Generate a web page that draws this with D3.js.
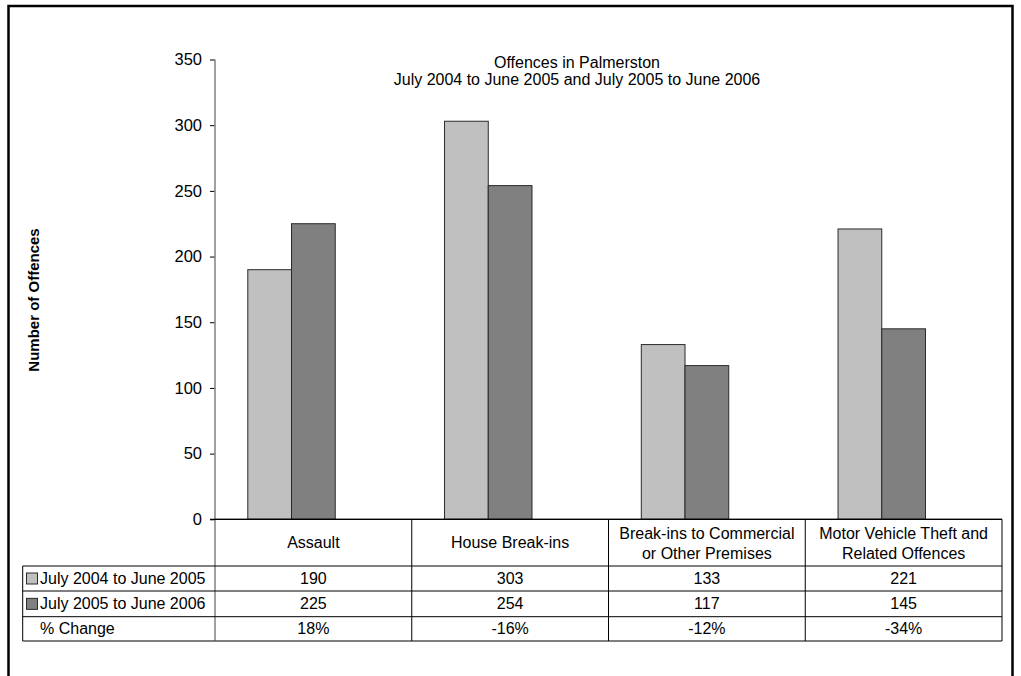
<!DOCTYPE html>
<html><head><meta charset="utf-8">
<script src="https://cdn.jsdelivr.net/npm/d3@7"></script>
<style>
body{margin:0;background:#fff;}
svg{display:block;font-family:"Liberation Sans",Arial,sans-serif;}
</style></head>
<body><svg id="c" width="1021" height="676"></svg>
<script>
const categories = [["Assault"],["House Break-ins"],["Break-ins to Commercial","or Other Premises"],["Motor Vehicle Theft and","Related Offences"]];
const seriesNames = ["July 2004 to June 2005","July 2005 to June 2006"];
const values2005 = [190,303,133,221];
const values2006 = [225,254,117,145];
const pctChange = ["18%","-16%","-12%","-34%"];
const colors = ["#c0c0c0","#808080"];
const titleLines = ["Offences in Palmerston","July 2004 to June 2005 and July 2005 to June 2006"];
const yTicks = [0,50,100,150,200,250,300,350];

(function(){
const svg = d3.select("#c");
const pLeft = 215, pRight = 1002, pTop = 59.5, pBottom = 519.3;
const tblLeft = 22.7;
const rowY = [519.3, 566, 591, 616.7, 641];
const fs = 16;

// outer border
svg.append("rect").attr("x",8.5).attr("y",6).attr("width",1004).attr("height",700)
  .attr("fill","none").attr("stroke","#000").attr("stroke-width",2.5);

const idx = categories.map((d,i)=>i);
const x = d3.scaleBand().domain(idx).range([pLeft,pRight]).padding(0);
const bw = x.bandwidth();
const xs = d3.scaleBand().domain([0,1]).range([bw/6, bw/6 + 4*bw/9]).padding(0);
const y = d3.scaleLinear().domain([0,350]).range([pBottom, pTop]);

// bars
const series = [values2005, values2006];
series.forEach((vals,s)=>{
  svg.append("g").selectAll("rect").data(vals).join("rect")
    .attr("x",(d,i)=>x(i)+xs(s)).attr("y",d=>y(d))
    .attr("width",xs.bandwidth()).attr("height",d=>y(0)-y(d))
    .attr("fill",colors[s]).attr("stroke","#2a2a2a").attr("stroke-width",1);
});

// y axis
const yAxis = d3.axisLeft(y).tickValues(yTicks).tickSize(5).tickPadding(8);
const gy = svg.append("g").attr("transform",`translate(${pLeft},0)`).call(yAxis);
gy.select(".domain").remove();
gy.selectAll(".tick line").attr("stroke","#000");
gy.selectAll(".tick text").attr("font-size",fs+0.5).attr("fill","#000").attr("font-family","Liberation Sans, Arial, sans-serif");
svg.append("line").attr("x1",pLeft).attr("x2",pLeft).attr("y1",pTop).attr("y2",rowY[4])
  .attr("stroke","#808080").attr("stroke-width",1.5);

// title
svg.append("g").selectAll("text").data(titleLines).join("text")
  .attr("x",577).attr("y",(d,i)=>67.5+i*17.5).attr("text-anchor","middle")
  .attr("font-size",fs).text(d=>d);

// y axis title
svg.append("text").attr("transform","translate(39,300) rotate(-90)")
  .attr("text-anchor","middle").attr("font-size",15).attr("font-weight","bold").text("Number of Offences");

// table lines
const tl = svg.append("g").attr("stroke","#000").attr("stroke-width",1);
tl.append("line").attr("x1",pLeft).attr("x2",pRight).attr("y1",rowY[0]).attr("y2",rowY[0]);
[1,2,3].forEach(r=>tl.append("line").attr("x1",tblLeft).attr("x2",pRight).attr("y1",rowY[r]).attr("y2",rowY[r]));
tl.append("line").attr("x1",tblLeft).attr("x2",pRight).attr("y1",rowY[4]).attr("y2",rowY[4]).attr("stroke","#555").attr("stroke-width",1.5);
tl.append("line").attr("x1",tblLeft).attr("x2",tblLeft).attr("y1",rowY[1]).attr("y2",rowY[4]);
idx.forEach(i=>{ if(i>0) tl.append("line").attr("x1",x(i)).attr("x2",x(i)).attr("y1",rowY[0]).attr("y2",rowY[4]); });
tl.append("line").attr("x1",pRight).attr("x2",pRight).attr("y1",rowY[0]).attr("y2",rowY[4]);
// zero line
svg.append("line").attr("x1",pLeft-5).attr("x2",pRight).attr("y1",pBottom).attr("y2",pBottom).attr("stroke","#000").attr("stroke-width",1.2);

// header labels
idx.forEach(i=>{
  const lines = categories[i];
  const cx = x(i)+bw/2;
  const base = lines.length===1 ? 548 : 539;
  lines.forEach((t,k)=>svg.append("text").attr("x",cx).attr("y",base+k*20).attr("text-anchor","middle").attr("font-size",fs).text(t));
});

// rows
const rows = [values2005.map(String), values2006.map(String), pctChange];
const rowLabels = [seriesNames[0], seriesNames[1], "% Change"];
rows.forEach((r,ri)=>{
  const cy = (rowY[ri+1]+rowY[ri+2])/2;
  r.forEach((v,i)=>svg.append("text").attr("x",x(i)+bw/2).attr("y",cy+5.5).attr("text-anchor","middle").attr("font-size",fs).text(v));
  if(ri<2){
    svg.append("rect").attr("x",26.5).attr("y",cy-5.5).attr("width",11).attr("height",11)
      .attr("fill",colors[ri]).attr("stroke","#2a2a2a").attr("stroke-width",1);
  }
  svg.append("text").attr("x",40).attr("y",cy+5.5).attr("font-size",fs).text(rowLabels[ri]);
});
})();
</script></body></html>
